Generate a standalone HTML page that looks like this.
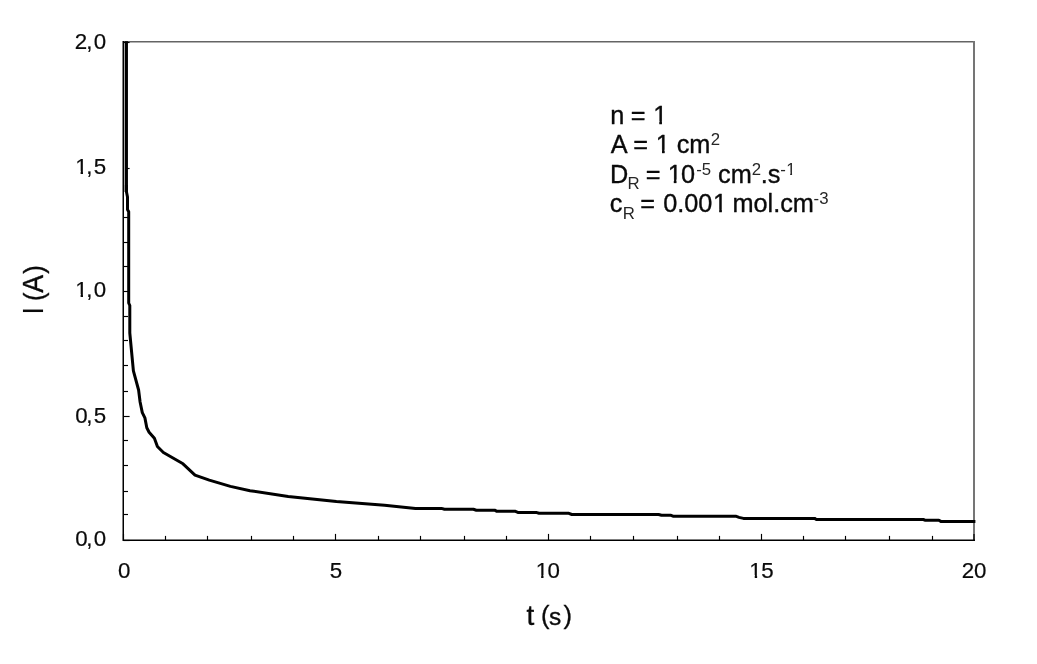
<!DOCTYPE html>
<html><head><meta charset="utf-8"><title>Chronoamperometry</title>
<style>
html,body{margin:0;padding:0;background:#fff;}
body{width:1037px;height:664px;overflow:hidden;}
svg{display:block;font-family:"Liberation Sans",Arial,sans-serif;fill:#0a0a0a;}
.tk line{stroke:#000;stroke-width:1.15;}
.ann text,.ttl text{stroke:#0a0a0a;stroke-width:0.35px;stroke-linejoin:round;}
.lab text{stroke:#0a0a0a;stroke-width:0.2px;}
.ann text.s{stroke:none;fill:#262626;}
.ttl text.s{stroke-width:0.1px;}
text{white-space:pre;}
</style></head><body>
<svg width="1037" height="664" viewBox="0 0 1037 664">
<defs>
<clipPath id="k0"><path d="M533.73,555.30H558.03V574.93H543.51V578.60H541.14V574.93H533.73Z"/></clipPath>
<clipPath id="k1"><path d="M747.33,555.30H771.63V574.93H757.11V578.60H754.74V574.93H747.33Z"/></clipPath>
<clipPath id="k2"><path d="M73.21,274.40H97.51V294.03H82.98V297.70H80.61V294.03H73.21Z"/></clipPath>
<clipPath id="k3"><path d="M73.21,151.20H97.51V170.83H82.98V174.50H80.61V170.83H73.21Z"/></clipPath>
<clipPath id="k4"><path d="M651.15,98.70H678.45V121.11H661.95V125.00H659.31V121.11H651.15Z"/></clipPath>
<clipPath id="k5"><path d="M653.85,127.40H681.15V149.81H664.65V153.70H662.01V149.81H653.85Z"/></clipPath>
<clipPath id="k6"><path d="M665.65,157.20H692.95V179.61H676.45V183.50H673.81V179.61H665.65Z"/></clipPath>
<clipPath id="k7"><path d="M784.15,157.70H802.95V172.24H792.06V175.50H790.17V172.24H784.15Z"/></clipPath>
<clipPath id="k8"><path d="M711.06,187.00H738.36V209.41H721.86V213.30H719.22V209.41H711.06Z"/></clipPath>
</defs>
<rect width="1037" height="664" fill="#fff"/>
<path d="M123,41.85H975" fill="none" stroke="#646464" stroke-width="1.5"/>
<path d="M974,41.1V540" fill="none" stroke="#757575" stroke-width="2"/>
<path d="M123.25,41.1V540.25H975" fill="none" stroke="#000" stroke-width="1.5" stroke-linejoin="miter"/>
<g class="tk">
<line x1="123.50" y1="540" x2="123.50" y2="533.90"/>
<line x1="165.50" y1="540" x2="165.50" y2="535.90"/>
<line x1="207.50" y1="540" x2="207.50" y2="535.90"/>
<line x1="251.50" y1="540" x2="251.50" y2="535.90"/>
<line x1="293.50" y1="540" x2="293.50" y2="535.90"/>
<line x1="335.50" y1="540" x2="335.50" y2="533.90"/>
<line x1="378.50" y1="540" x2="378.50" y2="535.90"/>
<line x1="420.50" y1="540" x2="420.50" y2="535.90"/>
<line x1="464.50" y1="540" x2="464.50" y2="535.90"/>
<line x1="506.50" y1="540" x2="506.50" y2="535.90"/>
<line x1="548.50" y1="540" x2="548.50" y2="533.90"/>
<line x1="590.50" y1="540" x2="590.50" y2="535.90"/>
<line x1="633.50" y1="540" x2="633.50" y2="535.90"/>
<line x1="677.50" y1="540" x2="677.50" y2="535.90"/>
<line x1="719.50" y1="540" x2="719.50" y2="535.90"/>
<line x1="761.50" y1="540" x2="761.50" y2="533.90"/>
<line x1="803.50" y1="540" x2="803.50" y2="535.90"/>
<line x1="845.50" y1="540" x2="845.50" y2="535.90"/>
<line x1="889.50" y1="540" x2="889.50" y2="535.90"/>
<line x1="932.50" y1="540" x2="932.50" y2="535.90"/>
<line x1="974.00" y1="540" x2="974.00" y2="533.90"/>
<line x1="123.5" y1="540.50" x2="129.60" y2="540.50"/>
<line x1="123.5" y1="514.50" x2="128.00" y2="514.50"/>
<line x1="123.5" y1="491.50" x2="128.00" y2="491.50"/>
<line x1="123.5" y1="465.50" x2="128.00" y2="465.50"/>
<line x1="123.5" y1="440.50" x2="128.00" y2="440.50"/>
<line x1="123.5" y1="416.50" x2="129.60" y2="416.50"/>
<line x1="123.5" y1="391.50" x2="128.00" y2="391.50"/>
<line x1="123.5" y1="365.50" x2="128.00" y2="365.50"/>
<line x1="123.5" y1="340.50" x2="128.00" y2="340.50"/>
<line x1="123.5" y1="316.50" x2="128.00" y2="316.50"/>
<line x1="123.5" y1="291.50" x2="129.60" y2="291.50"/>
<line x1="123.5" y1="266.50" x2="128.00" y2="266.50"/>
<line x1="123.5" y1="242.50" x2="128.00" y2="242.50"/>
<line x1="123.5" y1="217.50" x2="128.00" y2="217.50"/>
<line x1="126" y1="168.50" x2="129.60" y2="168.50"/>
<line x1="123.5" y1="42.50" x2="129.60" y2="42.50"/>
</g>
<path d="M126.3,41.2V192" fill="none" stroke="#000" stroke-width="3.3"/>
<polyline points="126.4,185.0 126.4,191.5 127.5,197.0 127.5,209.5 128.7,211.8 128.7,303.0 129.8,305.5 129.8,333.0 133.4,370.8 138.6,390.0 140.1,402.0 142.3,412.6 144.9,417.9 146.8,427.7 149.1,432.2 154.4,438.2 157.4,446.5 163.4,452.5 183.0,463.8 195.0,475.1 209.3,480.1 230.4,486.4 250.0,490.7 288.2,496.4 336.4,501.4 384.6,505.3 415.5,508.4 441.5,508.4 444.5,509.3 473.4,509.3 476.3,510.2 494.6,510.2 496.5,511.2 514.9,511.2 517.8,512.4 536.0,512.4 539.0,513.3 568.9,513.3 571.8,514.5 658.6,514.5 661.5,515.3 671.0,515.3 673.0,516.2 735.7,516.2 739.0,517.4 743.4,518.4 814.6,518.4 816.4,519.5 923.4,519.5 925.4,520.3 938.9,520.3 940.8,521.4 975.4,521.4" fill="none" stroke="#000" stroke-width="3" stroke-linejoin="round"/>
<g class="lab">
<text x="118.10" y="577.60" font-size="22.3">0</text>
<text x="329.70" y="577.60" font-size="22.3">5</text>
<text x="535.73" y="577.60" font-size="22.3" clip-path="url(#k0)">1</text><text x="547.60" y="577.60" font-size="22.3">0</text>
<text x="749.33" y="577.60" font-size="22.3" clip-path="url(#k1)">1</text><text x="761.20" y="577.60" font-size="22.3">5</text>
<text x="961.70" y="577.60" font-size="22.3">20</text>
<text x="75.23" y="545.70" font-size="22.3">0</text><text x="86.30" y="545.70" font-size="22.3">,</text><text x="93.87" y="545.70" font-size="22.3">0</text>
<text x="75.23" y="422.60" font-size="22.3">0</text><text x="86.30" y="422.60" font-size="22.3">,</text><text x="93.73" y="422.60" font-size="22.3">5</text>
<text x="75.21" y="296.70" font-size="22.3" clip-path="url(#k2)">1</text><text x="86.30" y="296.70" font-size="22.3">,</text><text x="93.87" y="296.70" font-size="22.3">0</text>
<text x="75.21" y="173.50" font-size="22.3" clip-path="url(#k3)">1</text><text x="86.30" y="173.50" font-size="22.3">,</text><text x="93.73" y="173.50" font-size="22.3">5</text>
<text x="74.63" y="48.70" font-size="22.3">2</text><text x="86.30" y="48.70" font-size="22.3">,</text><text x="93.87" y="48.70" font-size="22.3">0</text>
</g>
<g class="ttl">
<text x="526.38" y="624.60" font-size="28">t</text>
<text x="540.89" y="623.80" font-size="25.5">(</text>
<text x="549.02" y="624.60" font-size="24.5">s</text>
<text x="563.47" y="623.80" font-size="25.5">)</text>
</g>
<g class="ttl" transform="translate(42.8,320) rotate(-90) scale(1,1.07)">
<text class="s" x="5.44" y="0.00" font-size="26.7">I</text>
<text x="19.09" y="0.00" font-size="25.5">(</text>
<text x="27.15" y="0.00" font-size="26.7">A</text>
<text x="46.22" y="0.00" font-size="25.5">)</text>
</g>
<g class="ann">
<text x="610.22" y="124.00" font-size="25.3">n</text>
<text x="630.86" y="124.00" font-size="25.3">=</text>
<text x="653.15" y="124.00" font-size="25.3" clip-path="url(#k4)">1</text>
<text x="610.85" y="152.70" font-size="25.3">A</text>
<text x="633.36" y="152.70" font-size="25.3">=</text>
<text x="655.85" y="152.70" font-size="25.3" clip-path="url(#k5)">1</text>
<text x="676.73" y="152.70" font-size="25.3">cm</text>
<text x="710.86" y="144.70" font-size="16.8" class="s">2</text>
<text x="609.92" y="182.50" font-size="25.3">D</text>
<text x="627.62" y="188.70" font-size="16.8" class="s">R</text>
<text x="645.66" y="182.50" font-size="25.3">=</text>
<text x="667.65" y="182.50" font-size="25.3" clip-path="url(#k6)">1</text><text x="681.12" y="182.50" font-size="25.3">0</text>
<text x="696.15" y="174.50" font-size="16.8" class="s">-5</text>
<text x="718.03" y="182.50" font-size="25.3">cm</text>
<text x="751.66" y="174.50" font-size="16.8" class="s">2</text>
<text x="760.69" y="182.50" font-size="25.3">.</text>
<text x="767.80" y="182.50" font-size="25.3">s</text>
<text x="780.15" y="174.50" font-size="16.8" class="s">-</text><text x="786.15" y="174.50" font-size="16.8" class="s" clip-path="url(#k7)">1</text>
<text x="609.83" y="212.30" font-size="25.3">c</text>
<text x="622.72" y="218.50" font-size="16.8" class="s">R</text>
<text x="640.16" y="212.30" font-size="25.3">=</text>
<text x="663.21" y="212.30" font-size="25.3">0.00</text><text x="713.06" y="212.30" font-size="25.3" clip-path="url(#k8)">1</text>
<text x="732.42" y="212.30" font-size="25.3">mol.cm</text>
<text x="813.55" y="204.30" font-size="16.8" class="s">-3</text>
</g>
</svg>
</body></html>
